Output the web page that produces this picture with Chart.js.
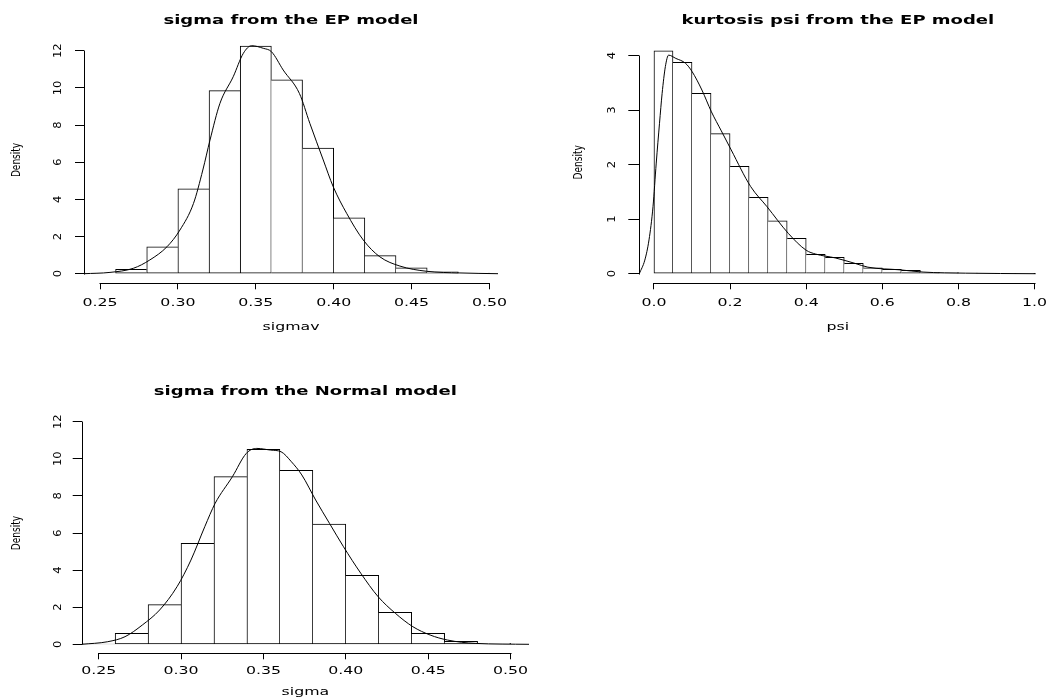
<!DOCTYPE html>
<html><head><meta charset="utf-8">
<script src="https://cdn.jsdelivr.net/npm/chart.js@4.4.1/dist/chart.umd.min.js"></script>
<style>
html,body{margin:0;padding:0;background:#fff;overflow:hidden;width:1052px;height:698px;}
canvas{position:absolute;}
</style></head><body>
<canvas id="c1" width="526" height="349" style="left:0;top:0;width:526px;height:349px"></canvas>
<canvas id="c2" width="526" height="349" style="left:526px;top:0;width:526px;height:349px"></canvas>
<canvas id="c3" width="560" height="349" style="left:0;top:349px;width:560px;height:349px"></canvas>
<script>
// ---------- data ----------
const sigmaEpBreaks = [0.24,0.26,0.28,0.30,0.32,0.34,0.36,0.38,0.40,0.42,0.44,0.46,0.48,0.50];
const sigmaEpDensity = [0.03,0.23,1.45,4.57,9.85,12.25,10.44,6.76,3.01,0.97,0.32,0.10,0.03];
const sigmaEpCurveX = [0.2397,0.2564,0.2714,0.282,0.293,0.3013,0.310,0.316,0.3206,0.327,0.3355,0.342,0.3473,0.3548,0.360,0.3676,0.378,0.3847,0.3933,0.3997,0.4083,0.419,0.4296,0.4425,0.4596,0.481,0.5055];
const sigmaEpCurveY = [0,0.07,0.29,0.74,1.45,2.35,3.78,5.58,7.19,9.17,10.6,11.86,12.27,12.13,11.95,10.96,9.70,8.09,6.12,4.68,3.25,1.81,0.91,0.41,0.13,0.04,0];

const psiBreaks = [0,0.05,0.10,0.15,0.20,0.25,0.30,0.35,0.40,0.45,0.50,0.55,0.60,0.65,0.70,0.75,0.80,0.85,0.90,0.95,1.00];
const psiDensity = [4.09,3.88,3.31,2.57,1.97,1.40,0.97,0.65,0.355,0.30,0.19,0.11,0.08,0.06,0.025,0.02,0.012,0.006,0.003,0.002];
const psiCurveX = [-0.0385,-0.024,-0.013,-0.0025,0.006,0.0146,0.0215,0.030,0.0385,0.0575,0.083,0.100,0.126,0.151,0.177,0.203,0.254,0.297,0.353,0.40,0.425,0.476,0.528,0.562,0.648,0.707,0.819,1.003];
const psiCurveY = [0,0.25,0.62,1.23,2.03,2.76,3.31,3.80,4.01,3.95,3.86,3.71,3.37,2.97,2.62,2.27,1.60,1.23,0.74,0.43,0.36,0.29,0.19,0.12,0.07,0.03,0.01,0];

const sigmaNBreaks = [0.24,0.26,0.28,0.30,0.32,0.34,0.36,0.38,0.40,0.42,0.44,0.46,0.48,0.50];
const sigmaNDensity = [0.05,0.59,2.14,5.44,9.04,10.51,9.38,6.48,3.72,1.72,0.59,0.16,0.05];
const sigmaNCurveX = [0.2397,0.2555,0.266,0.2765,0.287,0.2976,0.306,0.3144,0.3207,0.3312,0.3396,0.346,0.3544,0.3607,0.367,0.3733,0.3817,0.3901,0.3986,0.4091,0.4196,0.4301,0.4407,0.4512,0.4617,0.4785,0.5112];
const sigmaNCurveY = [0,0.14,0.41,1.04,1.85,3.11,4.54,6.34,7.60,9.04,10.29,10.56,10.47,10.38,9.84,9.13,7.78,6.52,5.26,3.83,2.57,1.67,0.95,0.50,0.23,0.05,0];

const sigmaXTicks = [0.25,0.30,0.35,0.40,0.45,0.50];
const sigmaXTickLabels = ['0.25','0.30','0.35','0.40','0.45','0.50'];
const psiXTicks = [0,0.2,0.4,0.6,0.8,1.0];
const psiXTickLabels = ['0.0','0.2','0.4','0.6','0.8','1.0'];
const sigmaYTicks = [0,2,4,6,8,10,12];
const sigmaYTickLabels = ['0','2','4','6','8','10','12'];
const psiYTicks = [0,1,2,3,4];
const psiYTickLabels = ['0','1','2','3','4'];

const titles = ['sigma from the EP model','kurtosis psi from the EP model','sigma from the Normal model'];
const xTitles = ['sigmav','psi','sigma'];
const yTitle = 'Density';

// ---------- text stretching (mimic wide R bitmap text) ----------
const NATIVE_FILL = CanvasRenderingContext2D.prototype.fillText;
const TEXTFX = {
  '12px':   {sx: 1.5, sy: 1},
  '10.5px': {sx: 1.5, sy: 1},
  '9px':    {sx: 1,   sy: 1.4}
};
function patchCtx(ctx){
  ctx.fillText = function(t, x, y, mw){
    const m = /(\d+(?:\.\d+)?)px/.exec(this.font);
    const s = m ? TEXTFX[m[1] + 'px'] : null;
    if (!s) return NATIVE_FILL.call(this, t, x, y);
    this.save();
    this.translate(x, y);
    this.scale(s.sx, s.sy);
    NATIVE_FILL.call(this, t, 0, 0);
    this.restore();
  };
}

// R-style axis lines (first to last tick) and rotated y tick labels
const rAxes = {
  id: 'rAxes',
  afterDraw(chart, args, opts){
    const {ctx, chartArea, scales:{x, y}} = chart;
    ctx.save();
    ctx.strokeStyle = '#000'; ctx.lineWidth = 1;
    ctx.beginPath();
    const xt = x.ticks, yt = y.ticks;
    const yb = Math.round(chartArea.bottom) + 0.5;
    ctx.moveTo(Math.round(x.getPixelForValue(xt[0].value)) - 0.5, yb);
    ctx.lineTo(Math.round(x.getPixelForValue(xt[xt.length-1].value)) + 0.5, yb);
    const xl = Math.round(chartArea.left) + 0.5;
    ctx.moveTo(xl, Math.round(y.getPixelForValue(yt[0].value)) + 0.5);
    ctx.lineTo(xl, Math.round(y.getPixelForValue(yt[yt.length-1].value)) - 0.5);
    ctx.stroke();
    // rotated y tick labels (read bottom-to-top, as in R)
    ctx.fillStyle = '#000';
    ctx.font = '10px "DejaVu Sans"';
    ctx.textAlign = 'center';
    ctx.textBaseline = 'middle';
    yt.forEach((t, i) => {
      ctx.save();
      ctx.translate(opts.labelX, y.getPixelForValue(t.value));
      ctx.rotate(-Math.PI / 2);
      ctx.scale(1.15, 1);
      NATIVE_FILL.call(ctx, opts.labels[i], 0, 0);
      ctx.restore();
    });
    ctx.restore();
  }
};

function panel(id, p){
  const canvas = document.getElementById(id);
  const ctx = canvas.getContext('2d');
  patchCtx(ctx);
  const mids = p.density.map((v, i) => (p.breaks[i] + p.breaks[i+1]) / 2);
  const d = p.density, n = d.length;
  new Chart(ctx, {
    type: 'bar',
    data: {
      datasets: [
        {
          type: 'line',
          order: 0,
          data: p.curveX.map((x, i) => ({x, y: p.curveY[i]})),
          borderColor: '#000', borderWidth: 1, pointRadius: 0,
          cubicInterpolationMode: 'monotone', fill: false
        },
        {
          type: 'bar',
          order: 1,
          data: mids.map((x, i) => ({x, y: d[i]})),
          backgroundColor: '#fff', borderColor: '#000',
          borderWidth: c => {
            const i = c.dataIndex;
            return {top: 1, bottom: 1,
              left: (i === 0 || d[i] >= d[i-1]) ? 1 : 0,
              right: (i === n - 1 || d[i] > d[i+1]) ? 1 : 0};
          },
          borderSkipped: false,
          barPercentage: 1, categoryPercentage: 1
        }
      ]
    },
    options: {
      responsive: false, animation: false, devicePixelRatio: 1, events: [],
      layout: {padding: {left: 0, right: p.padRight, top: 0, bottom: 0}},
      plugins: {
        legend: {display: false}, tooltip: {enabled: false},
        title: {display: true, text: p.title, fullSize: false, color: '#000',
          font: {family: 'DejaVu Sans', size: 12, weight: 'bold', lineHeight: 1.2},
          padding: {top: p.titleTop, bottom: p.titleBottom}},
        rAxes: {labelX: p.yLabelX, labels: p.yLabels}
      },
      scales: {
        x: {
          type: 'linear', min: p.xMin, max: p.xMax, offset: false, bounds: 'data',
          grid: {display: true, drawOnChartArea: false, drawTicks: true, tickLength: p.xTl, color: '#000', lineWidth: 1, offset: false},
          border: {display: false},
          afterBuildTicks: s => { s.ticks = p.xTicks.map(v => ({value: v})); },
          afterFit: s => { s.height = p.xHeight; },
          ticks: {autoSkip: false, maxRotation: 0, minRotation: 0, padding: p.xPad, color: '#000',
            font: {family: 'DejaVu Sans', size: 10.5, lineHeight: 1},
            callback: (v, i) => p.xLabels[i]},
          title: {display: true, text: p.xTitle, color: '#000',
            font: {family: 'DejaVu Sans', size: 10.5, lineHeight: 1},
            padding: {top: 0, bottom: p.xTitleBottom}}
        },
        y: {
          type: 'linear', min: p.yMin, max: p.yMax, bounds: 'data',
          grid: {display: true, drawOnChartArea: false, drawTicks: true, tickLength: p.yTl, color: '#000', lineWidth: 1},
          border: {display: false},
          afterBuildTicks: s => { s.ticks = p.yTicks.map(v => ({value: v})); },
          afterFit: s => { s.width = p.yWidth; },
          ticks: {display: false, autoSkip: false, callback: (v, i) => p.yLabels[i]},
          title: {display: true, text: yTitle, color: '#000',
            font: {family: 'DejaVu Sans', size: 9, lineHeight: 1},
            padding: {top: p.yTitleTop, bottom: 0}}
        }
      }
    },
    plugins: [rAxes]
  });
}

panel('c1', {
  breaks: sigmaEpBreaks, density: sigmaEpDensity, curveX: sigmaEpCurveX, curveY: sigmaEpCurveY,
  title: titles[0], xTitle: xTitles[0], xTicks: sigmaXTicks, xLabels: sigmaXTickLabels,
  yTicks: sigmaYTicks, yLabels: sigmaYTickLabels,
  xMin: 0.23973, xMax: 0.50546, yMin: -0.517, yMax: 12.76,
  padRight: 28, titleTop: 13.5, titleBottom: 8.7,
  xHeight: 65.7, xTl: 6, xPad: 8.75, xTitleBottom: 16.05,
  yWidth: 84, yTl: 9, yLabelX: 58.5, yTitleTop: 11.8
});
panel('c2', {
  breaks: psiBreaks, density: psiDensity, curveX: psiCurveX, curveY: psiCurveY,
  title: titles[1], xTitle: xTitles[1], xTicks: psiXTicks, xLabels: psiXTickLabels,
  yTicks: psiYTicks, yLabels: psiYTickLabels,
  xMin: -0.0385, xMax: 1.0051, yMin: -0.176, yMax: 4.264,
  padRight: 6, titleTop: 13.5, titleBottom: 13.4,
  xHeight: 65.7, xTl: 6, xPad: 9, xTitleBottom: 16.05,
  yWidth: 113.3, yTl: 11, yLabelX: 86.8, yTitleTop: 48.7
});
panel('c3', {
  breaks: sigmaNBreaks, density: sigmaNDensity, curveX: sigmaNCurveX, curveY: sigmaNCurveY,
  title: titles[2], xTitle: xTitles[2], xTicks: sigmaXTicks, xLabels: sigmaXTickLabels,
  yTicks: sigmaYTicks, yLabels: sigmaYTickLabels,
  xMin: 0.2397, xMax: 0.5112, yMin: -0.485, yMax: 12.48,
  padRight: 31, titleTop: 35.3, titleBottom: 14.1,
  xHeight: 44.7, xTl: 6, xPad: 6.65, xTitleBottom: 0.05,
  yWidth: 81.7, yTl: 9, yLabelX: 58.3, yTitleTop: 12.2
});
</script>
</body></html>
